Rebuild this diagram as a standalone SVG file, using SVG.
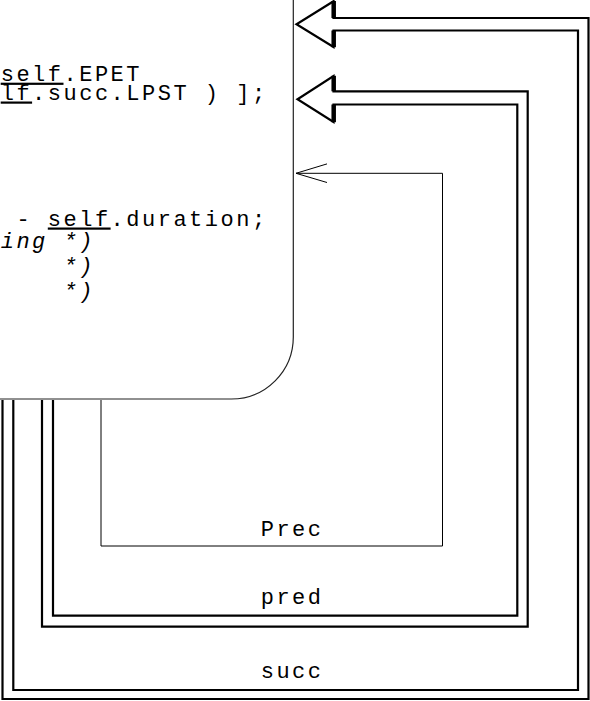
<svg xmlns="http://www.w3.org/2000/svg" width="590" height="701" viewBox="0 0 590 701">
<style>
.code{font-family:"Liberation Mono","DejaVu Sans Mono",monospace;font-size:22px;letter-spacing:2.5px;fill:#000}
.it{font-style:italic}
.u{text-decoration:underline}
.box{fill:#fff;stroke:#222;stroke-width:1.2}
.dbl{fill:none;stroke:#000;stroke-width:2.2;stroke-linejoin:miter}
.back{stroke:#000;stroke-width:4.5}
.thin{fill:none;stroke:#000;stroke-width:1}
</style>
<defs>
<marker id="open" markerUnits="userSpaceOnUse" viewBox="-34 -12 38 24" refX="0" refY="0" markerWidth="38" markerHeight="24" orient="auto-start-reverse" overflow="visible">
<path d="M -31,-9.2 L 0,0 L -31,9.4" fill="none" stroke="#000" stroke-width="1"/>
</marker>
</defs>
<rect width="590" height="701" fill="#fff"/>
<g id="node-box">
<path class="box" d="M -5,-5 L 293.3,-5 L 293.3,337 A 62,62 0 0 1 231.3,399 L -5,399 Z"/>
<text class="code" x="0.7" y="80.7"><tspan class="u">self</tspan>.EPET</text>
<text class="code" x="0.7" y="99.5"><tspan class="u">lf</tspan>.succ.LPST ) ];</text>
<text class="code" x="16.4" y="225.5">- <tspan class="u">self</tspan>.duration;</text>
<text class="code it" x="0.7" y="248.3">ing *)</text>
<text class="code it" x="63.5" y="273.3">*)</text>
<text class="code it" x="63.5" y="298">*)</text>
</g>
<g id="connectors">
<g id="succ">
<path class="dbl" d="M 2.5,400 L 2.5,699 L 588.5,699 L 588.5,18 L 333.5,18 L 333.5,1.2 L 296.5,24.3 L 333.5,47 L 333.5,30.5 L 578,30.5 L 578,690 L 13.3,690 L 13.3,400"/>
<line class="back" x1="333.7" y1="1" x2="333.7" y2="18"/>
<line class="back" x1="333.7" y1="30.5" x2="333.7" y2="47.2"/>
</g>
<g id="pred">
<path class="dbl" d="M 42,400 L 42,626.7 L 527.7,626.7 L 527.7,91.3 L 333.5,91.3 L 333.5,76 L 297.5,99.3 L 333.5,122 L 333.5,104.5 L 517.3,104.5 L 517.3,615.7 L 53,615.7 L 53,400"/>
<line class="back" x1="333.7" y1="75.8" x2="333.7" y2="91.3"/>
<line class="back" x1="333.7" y1="104.5" x2="333.7" y2="122.2"/>
</g>
<g id="prec">
<path class="thin" marker-start="url(#open)" d="M 296,173.3 L 442.5,173.3 L 442.5,546 L 101,546 L 101,400"/>
</g>
<text class="code" x="260.7" y="535.7">Prec</text>
<text class="code" x="260.7" y="604">pred</text>
<text class="code" x="260.7" y="677.5">succ</text>
</g>
</svg>
